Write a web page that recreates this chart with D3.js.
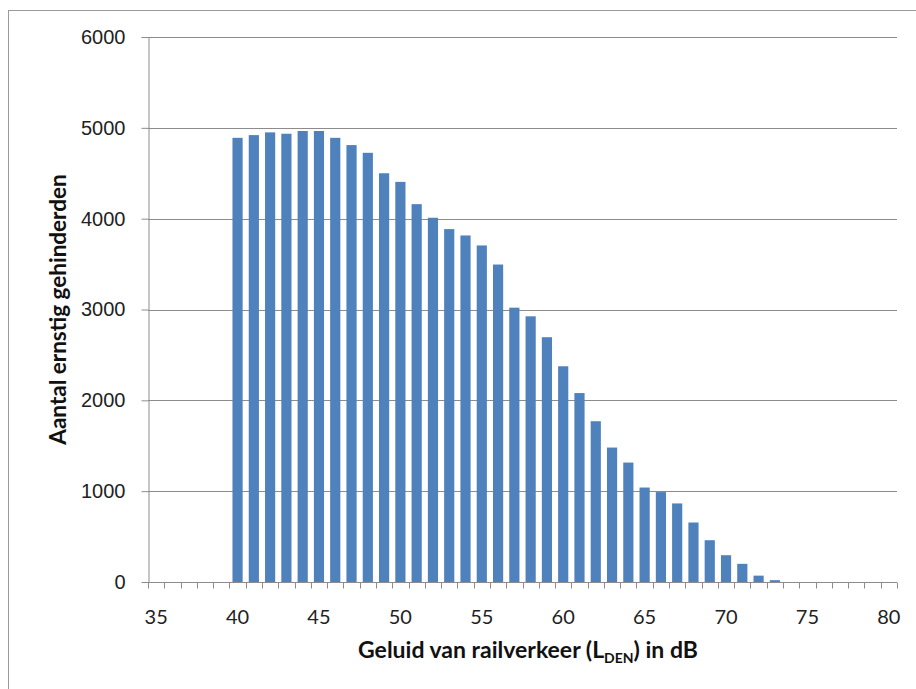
<!DOCTYPE html>
<html>
<head>
<meta charset="utf-8">
<script src="https://cdn.jsdelivr.net/npm/d3@7"></script>
<style>
  body { margin: 0; background: #fff; }
  svg { display: block; font-family: Lato, "Open Sans", sans-serif; }
</style>
</head>
<body>
<div id="chart"></div>
<script>
// noise level categories (dB), 35..80
const levels = d3.range(35, 81);
// number of severely annoyed people per dB class
const annoyed = [
  0, 0, 0, 0, 0,
  4890, 4920, 4950, 4935, 4965, 4965, 4890, 4810, 4725, 4500,
  4405, 4160, 4010, 3885, 3815, 3705, 3495, 3020, 2925, 2695,
  2375, 2080, 1770, 1480, 1315, 1040, 990, 865, 655, 460,
  295, 200, 70, 20,
  0, 0, 0, 0, 0, 0, 0
];
const yTicks = [0, 1000, 2000, 3000, 4000, 5000, 6000];
const xTickLabels = [35, 40, 45, 50, 55, 60, 65, 70, 75, 80];

const width = 916, height = 689;
const plot = {left: 148, right: 897, top: 37, bottom: 582};

const svg = d3.select("#chart").append("svg")
  .attr("width", width)
  .attr("height", height);

// chart frame (right/bottom edges fall outside the picture)
svg.append("rect")
  .attr("x", 8.5).attr("y", 10.5)
  .attr("width", 1000).attr("height", 1000)
  .attr("fill", "none")
  .attr("stroke", "#9a9a9a");

const x = d3.scaleBand()
  .domain(levels)
  .range([plot.left, plot.right])
  .paddingInner(0.375)
  .paddingOuter(0.1875);

const y = d3.scaleLinear()
  .domain([0, 6000])
  .range([plot.bottom, plot.top]);

// gridlines
svg.append("g")
  .selectAll("line")
  .data(yTicks.slice(1))
  .join("line")
  .attr("x1", plot.left).attr("x2", plot.right)
  .attr("y1", d => Math.round(y(d)) + 0.5)
  .attr("y2", d => Math.round(y(d)) + 0.5)
  .attr("stroke", "#8c8c8c");

// bars
svg.append("g")
  .selectAll("rect")
  .data(levels.map((l, i) => ({level: l, value: annoyed[i]})).filter(d => d.value > 0))
  .join("rect")
  .attr("x", d => x(d.level))
  .attr("width", x.bandwidth())
  .attr("y", d => y(d.value))
  .attr("height", d => y(0) - y(d.value))
  .attr("fill", "#4f81bd");

// y axis
const yAxis = svg.append("g")
  .attr("transform", `translate(${plot.left + 0.5},0)`)
  .call(d3.axisLeft(y).tickValues(yTicks).tickFormat(d3.format("d"))
    .tickSize(7).tickPadding(16).tickSizeOuter(0));
yAxis.select(".domain").attr("stroke", "#8c8c8c");
yAxis.selectAll(".tick line").attr("stroke", "#8c8c8c");
yAxis.selectAll(".tick text")
  .attr("font-size", 20)
  .attr("fill", "#222");

// x axis: labels centred on categories, tick marks on category boundaries
const step = x.step();
const xAxis = svg.append("g")
  .attr("transform", `translate(0,${plot.bottom + 0.5})`);
xAxis.append("line")
  .attr("x1", plot.left).attr("x2", plot.right)
  .attr("stroke", "#8c8c8c");
xAxis.selectAll(".tick-mark")
  .data(levels.concat([81]))
  .join("line")
  .attr("class", "tick-mark")
  .attr("x1", d => Math.round(d === 81 ? plot.right : x(d) - step * 0.1875) + 0.5)
  .attr("x2", d => Math.round(d === 81 ? plot.right : x(d) - step * 0.1875) + 0.5)
  .attr("y1", 0).attr("y2", 6)
  .attr("stroke", "#8c8c8c");
xAxis.selectAll(".tick-label")
  .data(xTickLabels)
  .join("text")
  .attr("class", "tick-label")
  .attr("x", d => x(d) + x.bandwidth() / 2)
  .attr("y", 41)
  .attr("text-anchor", "middle")
  .attr("font-size", 20)
  .attr("fill", "#222")
  .text(d => d);

// axis titles
svg.append("text")
  .attr("transform", `translate(66,${(plot.top + plot.bottom) / 2}) rotate(-90)`)
  .attr("text-anchor", "middle")
  .attr("font-size", 22.5)
  .attr("font-weight", "bold")
  .attr("fill", "#111")
  .text("Aantal ernstig gehinderden");

const xTitle = svg.append("text")
  .attr("x", 528)
  .attr("y", 658)
  .attr("text-anchor", "middle")
  .attr("font-size", 23)
  .attr("font-weight", "bold")
  .attr("fill", "#111");
xTitle.append("tspan").text("Geluid van railverkeer (L");
xTitle.append("tspan").attr("font-size", 14).attr("dy", 5).text("DEN");
xTitle.append("tspan").attr("dy", -5).text(") in dB");
</script>
</body>
</html>
